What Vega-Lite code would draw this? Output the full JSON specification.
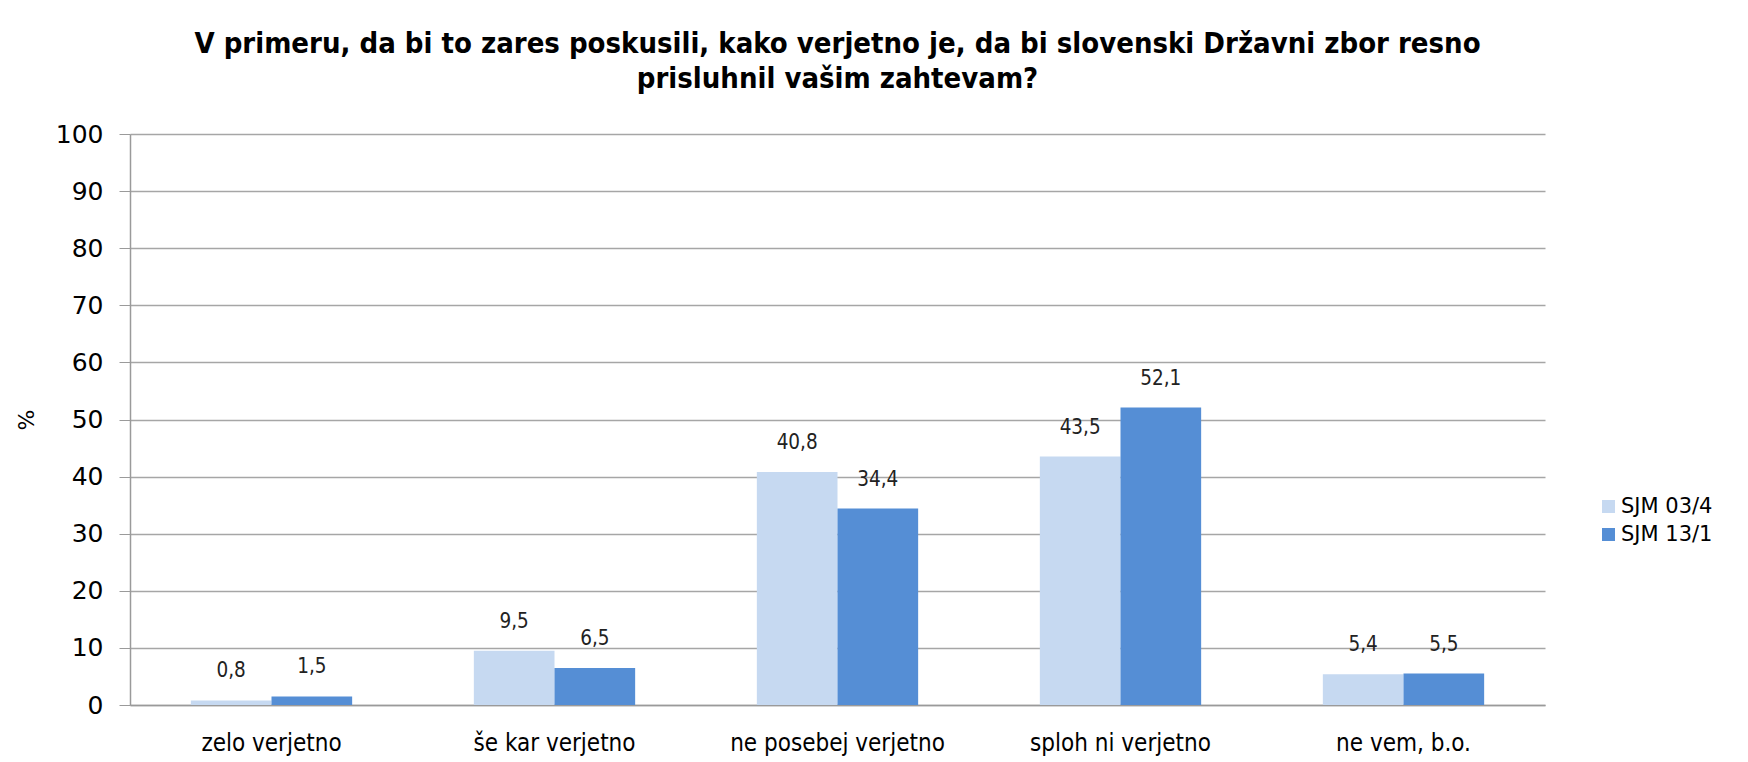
{
  "$schema": "https://vega.github.io/schema/vega-lite/v6.json",
  "autosize": {"type": "none"},
  "width": 1415,
  "height": 571,
  "padding": {"left": 130, "top": 134, "right": 203, "bottom": 57},
  "background": "white",
  "title": {
    "text": ["V primeru, da bi to zares poskusili, kako verjetno je, da bi slovenski Državni zbor resno", "prisluhnil vašim zahtevam?"],
    "font": "DejaVu Sans Condensed, DejaVu Sans, sans-serif",
    "fontSize": 29,
    "fontWeight": "bold",
    "color": "#000000",
    "lineHeight": 35,
    "anchor": "middle",
    "offset": 28
  },
  "data": {
    "values": [
      {"kategorija": "zelo verjetno", "anketa": "SJM 03/4", "odstotek": 0.8},
      {"kategorija": "zelo verjetno", "anketa": "SJM 13/1", "odstotek": 1.5},
      {"kategorija": "še kar verjetno", "anketa": "SJM 03/4", "odstotek": 9.5},
      {"kategorija": "še kar verjetno", "anketa": "SJM 13/1", "odstotek": 6.5},
      {"kategorija": "ne posebej verjetno", "anketa": "SJM 03/4", "odstotek": 40.8},
      {"kategorija": "ne posebej verjetno", "anketa": "SJM 13/1", "odstotek": 34.4},
      {"kategorija": "sploh ni verjetno", "anketa": "SJM 03/4", "odstotek": 43.5},
      {"kategorija": "sploh ni verjetno", "anketa": "SJM 13/1", "odstotek": 52.1},
      {"kategorija": "ne vem, b.o.", "anketa": "SJM 03/4", "odstotek": 5.4},
      {"kategorija": "ne vem, b.o.", "anketa": "SJM 13/1", "odstotek": 5.5}
    ]
  },
  "encoding": {
    "x": {
      "field": "kategorija",
      "type": "nominal",
      "sort": null,
      "scale": {"paddingInner": 0.43, "paddingOuter": 0.215},
      "axis": {
        "title": null,
        "labelAngle": 0,
        "labelLimit": 0,
        "labelFont": "DejaVu Sans Condensed, DejaVu Sans, sans-serif",
        "labelFontSize": 24,
        "labelColor": "#000000",
        "labelPadding": 26,
        "ticks": false,
        "domainColor": "#9a9a9a",
        "domainWidth": 1.5,
        "grid": false
      }
    },
    "xOffset": {
      "field": "anketa",
      "type": "nominal",
      "scale": {"paddingInner": 0, "paddingOuter": 0}
    },
    "y": {
      "field": "odstotek",
      "type": "quantitative",
      "scale": {"domain": [0, 100], "nice": false},
      "axis": {
        "title": "%",
        "titleFont": "DejaVu Sans, sans-serif",
        "titleFontSize": 22,
        "titleFontWeight": "normal",
        "titleColor": "#000000",
        "titlePadding": 17,
        "values": [0, 10, 20, 30, 40, 50, 60, 70, 80, 90, 100],
        "format": "d",
        "labelFont": "DejaVu Sans, sans-serif",
        "labelFontSize": 25,
        "labelColor": "#000000",
        "labelPadding": 16,
        "tickSize": 11,
        "tickColor": "#9a9a9a",
        "domainColor": "#9a9a9a",
        "domainWidth": 1.5,
        "grid": true,
        "gridColor": "#a6a6a6",
        "gridWidth": 1.5
      }
    }
  },
  "layer": [
    {
      "mark": {"type": "bar"},
      "encoding": {
        "color": {
          "field": "anketa",
          "type": "nominal",
          "scale": {"domain": ["SJM 03/4", "SJM 13/1"], "range": ["#C6D9F1", "#558ED5"]},
          "legend": {
            "title": null,
            "orient": "none",
            "legendX": 1468,
            "legendY": 362,
            "symbolType": "square",
            "symbolSize": 170,
            "symbolStrokeWidth": 0,
            "labelFont": "DejaVu Sans, sans-serif",
            "labelFontSize": 21,
            "labelColor": "#000000",
            "labelOffset": 2,
            "rowPadding": 6
          }
        }
      }
    },
    {
      "mark": {
        "type": "text",
        "baseline": "bottom",
        "dy": -19,
        "font": "DejaVu Sans Condensed, DejaVu Sans, sans-serif",
        "fontSize": 20.5,
        "color": "#222222"
      },
      "encoding": {
        "text": {"field": "odstotek", "type": "quantitative", "format": ".1f"}
      }
    }
  ],
  "config": {
    "locale": {"number": {"decimal": ",", "thousands": ".", "grouping": [3], "currency": ["", " €"]}},
    "view": {"stroke": null}
  }
}
